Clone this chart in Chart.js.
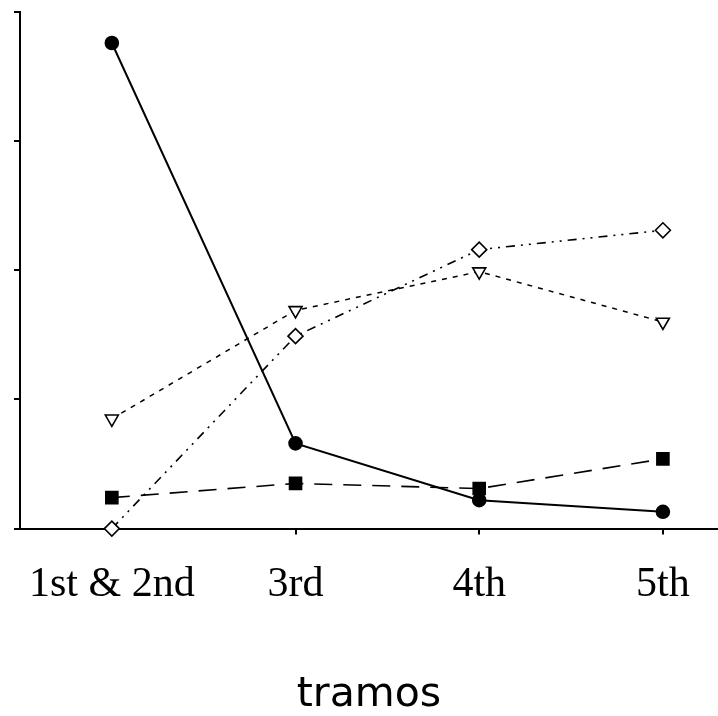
<!DOCTYPE html>
<html>
<head>
<meta charset="utf-8">
<script src="https://cdn.jsdelivr.net/npm/chart.js@4"></script>
<style>
  html, body { margin: 0; padding: 0; background: #fff; }
  #wrap { width: 718px; height: 716px; }
</style>
</head>
<body>
<div id="wrap"><canvas id="chart" width="718" height="716"></canvas></div>
<script>
// categories along the bottom axis
const categories = ['1st & 2nd', '3rd', '4th', '5th'];
const xSlots = [0, 1, 2, 3];
const yTicks = [0, 10, 20, 30, 40];

// series (no legend in the original)
const circleSeries = [37.6, 6.6, 2.2, 1.3];
const squareSeries = [2.4, 3.5, 3.1, 5.4];
const triangleSeries = [8.5, 16.9, 19.9, 16.0];
const diamondSeries = [0, 14.9, 21.6, 23.1];

const toPoints = (vals) => vals.map((v, i) => ({ x: xSlots[i], y: v }));

// one dataset per marker type
function makeSeries(vals, style) {
    return Object.assign({
        data: toPoints(vals),
        borderColor: '#000',
        pointBorderColor: '#000',
        pointBorderWidth: 1.6,
        clip: false,
        tension: 0
    }, style);
}

const ctx = document.getElementById('chart').getContext('2d');
new Chart(ctx, {
    type: 'line',
    data: {
        datasets: [
            makeSeries(diamondSeries, {
                borderWidth: 1.6,
                borderDash: [9, 6, 2, 6, 2, 6],
                pointStyle: 'rectRot',
                pointRadius: 7.5,
                pointBackgroundColor: '#fff'
            }),
            makeSeries(triangleSeries, {
                borderWidth: 1.5,
                borderDash: [5, 6],
                pointStyle: 'triangle',
                pointRotation: 180,
                pointRadius: 7.5,
                pointBackgroundColor: '#fff'
            }),
            makeSeries(squareSeries, {
                borderWidth: 1.6,
                borderDash: [18, 11],
                pointStyle: 'rect',
                pointRadius: 8.5,
                pointBackgroundColor: '#000'
            }),
            makeSeries(circleSeries, {
                borderWidth: 2,
                pointStyle: 'circle',
                pointRadius: 6.5,
                pointBackgroundColor: '#000'
            })
        ]
    },
    options: {
        responsive: false,
        animation: false,
        layout: { autoPadding: false, padding: { left: 14, top: 12, right: 0, bottom: 0 } },
        plugins: {
            legend: { display: false },
            tooltip: { enabled: false }
        },
        scales: {
            x: {
                type: 'linear',
                min: -0.5,
                max: 3.3,
                afterBuildTicks: (scale) => {
                    scale.ticks = xSlots.map(v => ({ value: v }));
                },
                border: { display: true, color: '#000', width: 2 },
                grid: { display: true, drawOnChartArea: false, drawTicks: true, tickLength: 6, color: '#000', lineWidth: 2 },
                ticks: {
                    color: '#000',
                    padding: 25,
                    maxRotation: 0,
                    font: { family: '"Liberation Serif", "Times New Roman", serif', size: 42 },
                    callback: (v) => categories[xSlots.indexOf(v)] ?? ''
                },
                title: {
                    display: true,
                    text: 'tramos',
                    color: '#000',
                    font: { family: '"DejaVu Sans", Verdana, sans-serif', size: 41, lineHeight: 1 },
                    padding: { top: 40, bottom: 0 }
                }
            },
            y: {
                min: 0,
                max: 40,
                afterBuildTicks: (scale) => {
                    scale.ticks = yTicks.map(v => ({ value: v }));
                },
                border: { display: true, color: '#000', width: 2 },
                grid: { display: true, drawOnChartArea: false, drawTicks: true, tickLength: 6, color: '#000', lineWidth: 2 },
                ticks: { display: false }
            }
        }
    }
});
</script>
</body>
</html>
